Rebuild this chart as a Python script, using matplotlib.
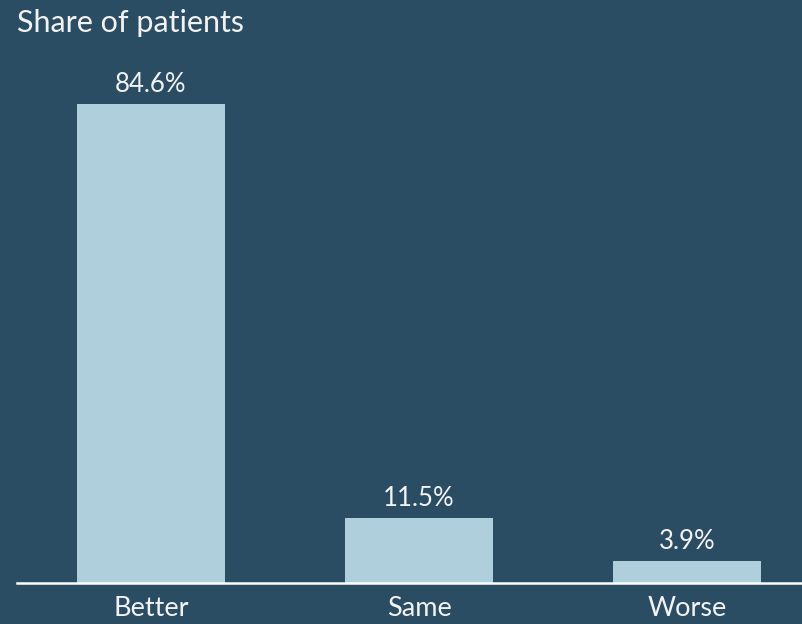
import matplotlib.pyplot as plt
import numpy as np

categories = ["Better", "Same", "Worse"]
shares = [84.6, 11.5, 3.9]
value_labels = ["84.6%", "11.5%", "3.9%"]

bg = "#2B4D63"
bar_color = "#AECFDB"
text_color = "#F2F2F2"

plt.rcParams['font.family'] = ['Lato', 'DejaVu Sans']

W, H = 803, 624
fig = plt.figure(figsize=(W / 100, H / 100), dpi=100, facecolor=bg)

# axes box in pixels: left 17, baseline 583, one category step = 268 px
left, base, top = 17, 583, 60
ax = fig.add_axes([left / W, (H - base) / H, (W - left) / W, (base - top) / H])
ax.set_facecolor(bg)

x = np.arange(len(categories))
step = 268
px_per_unit = (583 - 104) / shares[0]
ax.set_xlim(-0.5, -0.5 + (W - left) / step)
ax.set_ylim(0, (base - top) / px_per_unit)

ax.bar(x, shares, width=148 / step, color=bar_color, zorder=2)
for xi, v, lab in zip(x, shares, value_labels):
    ax.annotate(lab, (xi, v), xytext=(0, 5), textcoords="offset points",
                ha="center", va="bottom", color=text_color, fontsize=18.5)

for s in ["top", "right", "left"]:
    ax.spines[s].set_visible(False)
ax.spines["bottom"].set_color("white")
ax.spines["bottom"].set_linewidth(1.8)
ax.spines["bottom"].set_zorder(3)
ax.set_yticks([])
ax.set_xticks(x)
ax.set_xticklabels(categories, color=text_color, fontsize=19.5)
ax.tick_params(axis="x", length=0, pad=9)

fig.text(17 / W, 1 - 9 / H, "Share of patients", color=text_color,
         fontsize=22, ha="left", va="top")

fig.savefig("out.png", dpi=100, facecolor=bg)
